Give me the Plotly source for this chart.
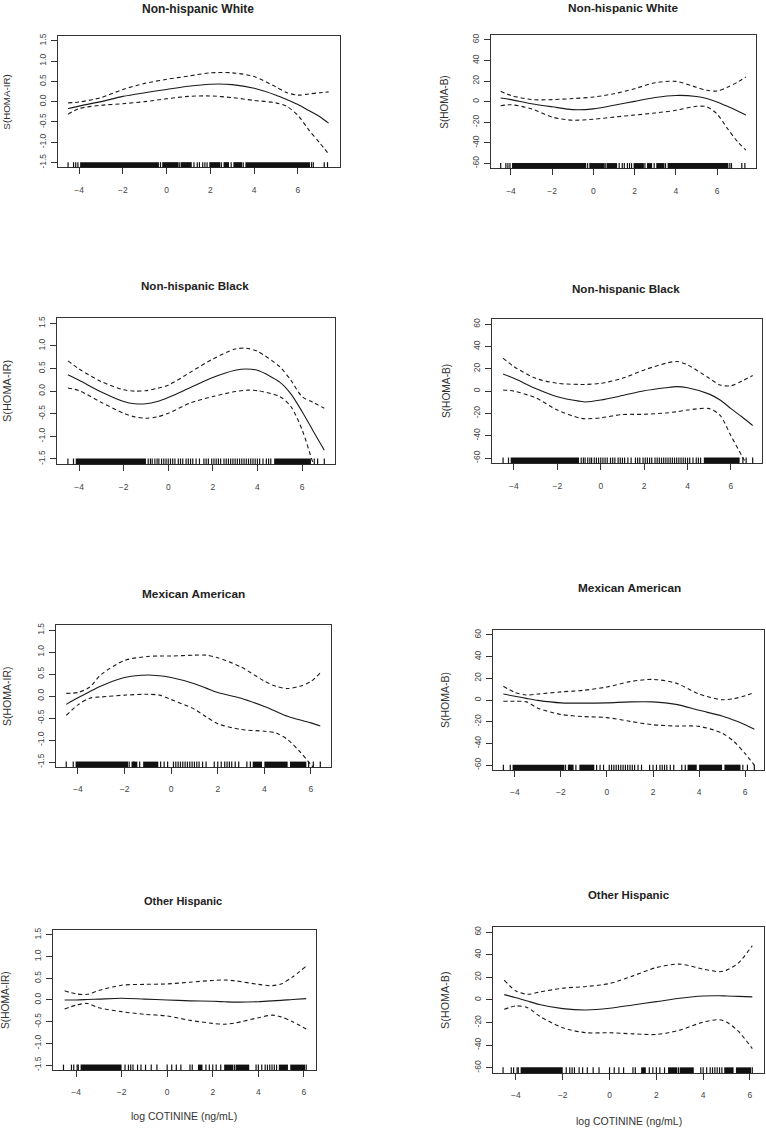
import plotly.graph_objects as go

W, H = 766, 1130

groups = ["Non-hispanic White", "Non-hispanic Black", "Mexican American", "Other Hispanic"]
ir_ticks = [-1.5, -1.0, -0.5, 0.0, 0.5, 1.0, 1.5]
ir_labels = ["-1.5", "-1.0", "-0.5", "0.0", "0.5", "1.0", "1.5"]
b_ticks = [-60, -40, -20, 0, 20, 40, 60]
b_labels = ["-60", "-40", "-20", "0", "20", "40", "60"]
x_ticks = [-4, -2, 0, 2, 4, 6]

# Non-hispanic White
x_nhw = [-4.5, -4, -3, -2, -1, 0, 1, 2, 3, 4, 5, 5.5, 6, 6.5, 7, 7.4]
fit_nhw_ir = [-0.17, -0.11, 0.0, 0.13, 0.22, 0.30, 0.38, 0.43, 0.42, 0.33, 0.16, 0.05, -0.07, -0.22, -0.37, -0.53]
hi_nhw_ir = [-0.03, -0.01, 0.10, 0.30, 0.45, 0.55, 0.63, 0.71, 0.71, 0.62, 0.36, 0.22, 0.16, 0.19, 0.22, 0.24]
lo_nhw_ir = [-0.31, -0.17, -0.09, -0.05, 0.0, 0.07, 0.13, 0.14, 0.10, 0.03, -0.03, -0.12, -0.34, -0.70, -1.02, -1.29]
fit_nhw_b = [3.5, 2, -2, -5, -7.7, -7, -3.5, 0.3, 4, 6, 5, 3, -0.3, -4.5, -9, -13]
hi_nhw_b = [10, 6, 2, 2, 3, 4.5, 7.7, 12.6, 18.4, 19.7, 14, 11, 10.3, 14, 19, 24]
lo_nhw_b = [-4, -3, -7, -15, -18, -17, -15, -13, -11, -8.4, -4.5, -5, -12, -26, -39, -47]

# Non-hispanic Black
x_nhb_ir = [-4.5, -4, -3, -2, -1.5, -1, -0.5, 0, 1, 2, 3, 3.5, 4, 5, 5.5, 6, 6.5, 7]
fit_nhb_ir = [0.36, 0.24, -0.02, -0.23, -0.28, -0.28, -0.23, -0.14, 0.08, 0.30, 0.46, 0.49, 0.46, 0.20, -0.06, -0.45, -0.88, -1.31]
hi_nhb_ir = [0.67, 0.49, 0.21, 0.03, 0.0, 0.01, 0.06, 0.13, 0.42, 0.71, 0.93, 0.95, 0.88, 0.54, 0.24, -0.12, -0.25, -0.38]
lo_nhb_ir = [0.07, 0.01, -0.25, -0.49, -0.57, -0.60, -0.57, -0.49, -0.26, -0.12, -0.01, 0.02, 0.01, -0.12, -0.34, -0.85, -1.6, -2.3]
x_nhb_b = [-4.5, -4, -3, -2, -1, -0.7, 0, 1, 2, 3, 3.5, 4, 5, 5.5, 6, 6.5, 7]
fit_nhb_b = [15.4, 11.5, 2.4, -5, -9, -9.7, -8, -4, 0.3, 3, 4, 3, -2.7, -8, -15.7, -23, -30.8]
hi_nhb_b = [29.6, 22, 11.5, 7, 6, 6, 7, 11.5, 19, 25, 26.6, 23.6, 11.5, 5.5, 4.8, 9, 14]
lo_nhb_b = [1, 0, -6, -17, -24, -24.8, -24, -21, -20.8, -19.6, -18.5, -17, -15.7, -21.8, -40, -58, -75]

# Mexican American
x_ma_ir = [-4.5, -4, -3.5, -3, -2, -1, -0.5, 0, 1, 1.5, 2, 3, 4, 4.5, 5, 5.5, 6, 6.4]
fit_ma_ir = [-0.19, -0.04, 0.10, 0.23, 0.42, 0.48, 0.46, 0.42, 0.28, 0.18, 0.08, -0.05, -0.24, -0.35, -0.46, -0.54, -0.61, -0.68]
hi_ma_ir = [0.06, 0.08, 0.20, 0.49, 0.81, 0.90, 0.91, 0.91, 0.93, 0.93, 0.87, 0.66, 0.34, 0.22, 0.17, 0.22, 0.33, 0.53]
lo_ma_ir = [-0.44, -0.20, -0.05, -0.02, 0.02, 0.04, 0.02, -0.08, -0.30, -0.47, -0.63, -0.76, -0.80, -0.84, -0.99, -1.25, -1.56, -1.8]
x_ma_b = [-4.5, -4, -3.5, -3, -2, -1, 0, 1, 2, 3, 4, 5, 5.5, 6, 6.4]
fit_ma_b = [5.5, 3.5, 1.5, -0.3, -2.6, -2.9, -2.6, -1.7, -1.7, -4, -9.5, -14.7, -18.5, -22.8, -27]
hi_ma_b = [12.7, 7, 4.6, 5.5, 7.5, 9, 12, 17, 19, 15.6, 5.5, 0.3, 1.2, 4, 7]
lo_ma_b = [-1.2, -1.2, -1.7, -7.5, -13.3, -15.3, -16.2, -19.7, -22.8, -24, -24.3, -30.6, -38, -49.4, -60]

# Other Hispanic
x_oh_ir = [-4.5, -4, -3.5, -3, -2, -1, 0, 1, 2, 2.5, 3, 4, 4.6, 5, 5.5, 6.1]
fit_oh_ir = [0.0, 0.0, 0.01, 0.02, 0.04, 0.02, 0.0, -0.02, -0.03, -0.04, -0.05, -0.04, -0.02, -0.01, 0.01, 0.03]
hi_oh_ir = [0.21, 0.14, 0.13, 0.22, 0.34, 0.36, 0.37, 0.41, 0.45, 0.46, 0.44, 0.36, 0.33, 0.37, 0.53, 0.78]
lo_oh_ir = [-0.21, -0.12, -0.08, -0.18, -0.27, -0.33, -0.37, -0.47, -0.54, -0.56, -0.53, -0.41, -0.35, -0.39, -0.50, -0.67]
x_oh_b = [-4.5, -4, -3.5, -3, -2, -1, 0, 1, 2, 3, 4, 4.7, 5, 5.5, 6.1]
fit_oh_b = [4.7, 2, -1, -4, -7.7, -8.9, -7.4, -4.4, -1.5, 1.5, 3.5, 3.7, 3.5, 3.2, 2.7]
hi_oh_b = [17.5, 8, 5, 7, 10.4, 11.9, 14.5, 21.3, 28.7, 31.7, 27.3, 25, 26.4, 32.6, 48]
lo_oh_b = [-8.3, -5.3, -6.8, -14.2, -24.6, -29, -29, -30, -30.5, -26.7, -19.6, -17.5, -19.6, -27.6, -43]

# rug: dense stretches and single observations of log cotinine
rug_blocks_nhw = [(-3.95, -0.35), (-0.2, 0.55), (0.65, 1.15), (1.95, 2.45), (2.6, 2.85), (3.05, 3.45), (3.6, 6.55)]
rug_ticks_nhw = [-4.5, -4.25, -4.15, -4.05, -0.28, 0.6, 1.25, 1.4, 1.5, 1.65, 1.75, 1.85, 2.5, 2.95, 3.5, 6.62, 6.7, 7.2, 7.35]
rug_blocks_nhb = [(-4.15, -1.0), (4.75, 6.4)]
rug_ticks_nhb = [-4.5, -4.25, -0.9, -0.8, -0.72, -0.6, -0.5, -0.42, -0.3, -0.2, -0.1, 0.0, 0.1, 0.2, 0.3, 0.45,
                 0.55, 0.65, 0.8, 0.9, 1.0, 1.1, 1.25, 1.4, 1.6, 1.7, 1.8, 1.95, 2.05, 2.15, 2.25, 2.35, 2.5,
                 2.6, 2.7, 2.8, 2.9, 3.0, 3.1, 3.2, 3.3, 3.4, 3.5, 3.6, 3.7, 3.8, 3.9, 4.0, 4.1, 4.25, 4.4,
                 4.5, 4.6, 6.55, 6.7, 7.0]
rug_blocks_ma = [(-4.1, -1.85), (-1.7, -1.45), (-1.2, -0.55), (3.5, 3.9), (4.0, 5.0), (5.1, 5.8)]
rug_ticks_ma = [-4.5, -4.2, -1.8, -1.6, -1.35, -0.45, -0.3, -0.15, 0.1, 0.2, 0.3, 0.4, 0.5, 0.6, 0.7, 0.8,
                0.9, 1.0, 1.1, 1.2, 1.35, 1.5, 1.85, 2.0, 2.15, 2.3, 2.4, 2.5, 2.6, 2.75, 2.9, 3.25, 3.4,
                5.9, 6.1, 6.4]
rug_blocks_oh = [(-3.8, -2.0), (1.35, 1.55), (2.5, 2.9), (3.0, 3.6), (4.9, 5.3), (5.4, 6.05)]
rug_ticks_oh = [-4.55, -4.2, -4.1, -3.95, -3.9, -1.85, -1.7, -1.6, -1.5, -1.3, -1.15, -0.95, -0.7, -0.45,
                0.0, 0.2, 0.4, 0.6, 1.0, 1.1, 1.7, 1.85, 2.0, 2.15, 2.35, 2.95, 3.9, 4.0, 4.15, 4.3, 4.4,
                4.5, 4.6, 4.7, 4.8, 6.1]

panels = [
    (groups[0], "S(HOMA-IR)", x_nhw, fit_nhw_ir, hi_nhw_ir, lo_nhw_ir, rug_blocks_nhw, rug_ticks_nhw),
    (groups[0], "S(HOMA-B)", x_nhw, fit_nhw_b, hi_nhw_b, lo_nhw_b, rug_blocks_nhw, rug_ticks_nhw),
    (groups[1], "S(HOMA-IR)", x_nhb_ir, fit_nhb_ir, hi_nhb_ir, lo_nhb_ir, rug_blocks_nhb, rug_ticks_nhb),
    (groups[1], "S(HOMA-B)", x_nhb_b, fit_nhb_b, hi_nhb_b, lo_nhb_b, rug_blocks_nhb, rug_ticks_nhb),
    (groups[2], "S(HOMA-IR)", x_ma_ir, fit_ma_ir, hi_ma_ir, lo_ma_ir, rug_blocks_ma, rug_ticks_ma),
    (groups[2], "S(HOMA-B)", x_ma_b, fit_ma_b, hi_ma_b, lo_ma_b, rug_blocks_ma, rug_ticks_ma),
    (groups[3], "S(HOMA-IR)", x_oh_ir, fit_oh_ir, hi_oh_ir, lo_oh_ir, rug_blocks_oh, rug_ticks_oh),
    (groups[3], "S(HOMA-B)", x_oh_b, fit_oh_b, hi_oh_b, lo_oh_b, rug_blocks_oh, rug_ticks_oh),
]

# layout in pixels: plot box (left, top, right, bottom), x range, title centre, y-label x
boxes = [(58, 33, 340, 165), (491, 32, 756, 166), (57, 316, 335, 463), (492, 317, 762, 462),
         (56, 624, 331, 767), (493, 629, 764, 770), (53, 930, 316, 1071), (493, 927, 764, 1074)]
xranges = [(-4.96, 7.92), (-4.97, 7.89), (-4.99, 7.48), (-5.01, 7.43),
           (-4.94, 6.86), (-4.95, 6.82), (-5.01, 6.53), (-4.98, 6.6)]
title_pos = [(198, 6), (623, 5), (195, 284), (626, 287), (193, 593), (629, 587), (183, 901), (628, 895)]
title_size = [12, 11.8, 11.6, 11.6, 11.8, 11.8, 11.0, 11.4]
ylab_x = [7, 445, 7, 446, 7, 445, 6, 445]
ylab_size = [9.8, 10, 11, 10.2, 10.5, 10.5, 10.2, 10.8]
xlab_pos = [(184, 1117), (629, 1122)]

FONT = "Liberation Sans, Arial, sans-serif"
INK = "#2b2b2b"


def px(x):
    return x / W


def py(y):
    return 1 - y / H


fig = go.Figure()
layout = dict(width=W, height=H, margin=dict(l=0, r=0, t=0, b=0), showlegend=False,
              paper_bgcolor="white", plot_bgcolor="white", font=dict(family=FONT, color=INK))
shapes = []
annotations = []

for i, (grp, ylab, xs, fit, hi, lo, blocks, ticks) in enumerate(panels):
    n = "" if i == 0 else str(i + 1)
    xa, ya = "x" + n, "y" + n
    is_ir = ylab == "S(HOMA-IR)"
    l, t, r, b = boxes[i]

    for ys, dash in ((hi, "4px,3px"), (lo, "4px,3px"), (fit, "solid")):
        fig.add_trace(go.Scatter(x=xs, y=ys, mode="lines", xaxis=xa, yaxis=ya,
                                 line=dict(color="#1a1a1a", width=1.1, dash=dash, shape="spline", smoothing=0.8),
                                 hoverinfo="skip"))

    axis_common = dict(showgrid=False, zeroline=False, showline=True, mirror=True, linecolor="#333",
                       linewidth=1, ticks="outside", ticklen=6, tickcolor="#333", tickwidth=1,
                       tickfont=dict(size=8.5, color="#444", family=FONT))
    layout["xaxis" + n] = dict(axis_common, domain=[px(l), px(r)], range=list(xranges[i]), anchor=ya,
                               tickvals=x_ticks, ticklabelstandoff=8)
    layout["yaxis" + n] = dict(axis_common, domain=[py(b), py(t)], anchor=xa,
                               range=[-1.62, 1.62] if is_ir else [-64.8, 64.8],
                               tickvals=ir_ticks if is_ir else b_ticks,
                               ticktext=ir_labels if is_ir else b_labels,
                               tickangle=-90, ticklabelstandoff=2)

    # rug along the bottom of the panel
    for x0, x1 in blocks:
        shapes.append(dict(type="rect", xref=xa, yref=ya + " domain", x0=x0, x1=x1, y0=0, y1=0.04,
                           fillcolor="#111", line=dict(width=0)))
    for tx in ticks:
        shapes.append(dict(type="line", xref=xa, yref=ya + " domain", x0=tx, x1=tx, y0=0, y1=0.04,
                           line=dict(color="#111", width=1.2)))

    tx_, ty_ = title_pos[i]
    annotations.append(dict(text="<b>" + grp + "</b>", x=px(tx_), y=py(ty_), xref="paper", yref="paper",
                            showarrow=False, xanchor="center", yanchor="middle",
                            font=dict(size=title_size[i], color="#222", family=FONT)))
    annotations.append(dict(text=ylab, x=px(ylab_x[i]), y=py((t + b) / 2), xref="paper", yref="paper",
                            showarrow=False, textangle=-90, xanchor="center", yanchor="middle",
                            font=dict(size=ylab_size[i], color="#333", family=FONT)))

for xx, yy in xlab_pos:
    annotations.append(dict(text="log COTININE (ng/mL)", x=px(xx), y=py(yy), xref="paper", yref="paper",
                            showarrow=False, xanchor="center", yanchor="middle",
                            font=dict(size=10.5, color="#333", family=FONT)))

layout["shapes"] = shapes
layout["annotations"] = annotations
fig.update_layout(**layout)
# drop the default 8px page margin so the figure sits flush in the window
fig.write_html("out.html", config={"displayModeBar": False},
               post_script="document.body.style.margin='0';document.body.style.overflow='hidden';")
